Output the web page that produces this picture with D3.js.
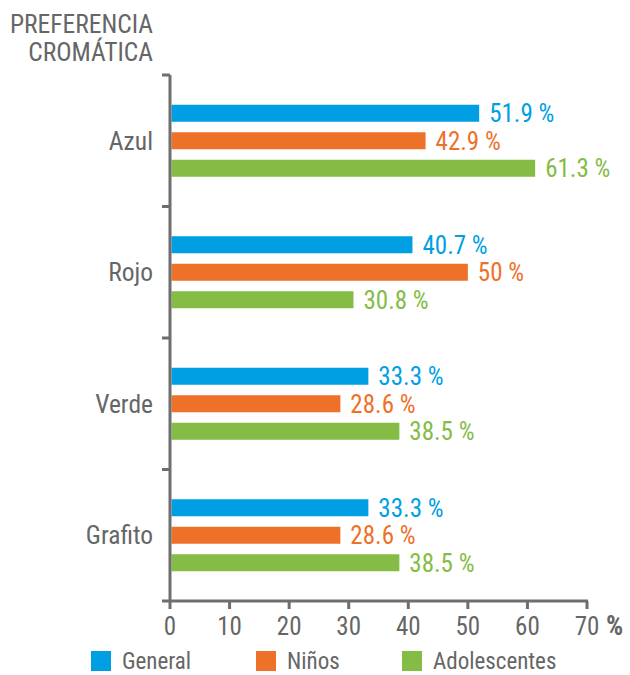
<!DOCTYPE html>
<html><head><meta charset="utf-8">
<script src="https://cdn.jsdelivr.net/npm/d3@7"></script>
<style>
body{margin:0;background:#fff;}
text{font-family:"Liberation Sans Narrow","Roboto Condensed","Arial Narrow",sans-serif;}
</style></head>
<body><svg id="c" width="630" height="675"></svg>
<script>
const categories = ["Azul","Rojo","Verde","Grafito"];
const seriesNames = ["General","Niños","Adolescentes"];
const general = [51.9, 40.7, 33.3, 33.3];
const ninos = [42.9, 50, 28.6, 28.6];
const adolescentes = [61.3, 30.8, 38.5, 38.5];
const xTicks = [0,10,20,30,40,50,60,70];
const colors = ["#009fe3","#ee712a","#84bc45"];

const svg = d3.select("#c");
const grey = "#666666", axisCol = "#6e6e6e";
const x = d3.scaleLinear().domain([0,70]).range([170,587]);
const y = d3.scaleBand().domain(categories).range([75,601]);
const pitch = 27.5, bh = 17;
const series = [general, ninos, adolescentes];

// bars
series.forEach((vals,si)=>{
  const off = (si-1)*pitch;
  svg.append("g").selectAll("rect").data(vals).join("rect")
    .attr("x", x(0)+1.5)
    .attr("y", (d,i)=> y(categories[i]) + y.bandwidth()/2 + off - bh/2)
    .attr("width", d=> x(d)-x(0)-1.5)
    .attr("height", bh)
    .attr("fill", colors[si]);
  svg.append("g").selectAll("text").data(vals).join("text")
    .attr("x", d=> x(d)+10)
    .attr("y", (d,i)=> y(categories[i]) + y.bandwidth()/2 + off + 9)
    .attr("fill", colors[si])
    .attr("font-size", 25)
    .text(d=> d + " %");
});

// y axis
svg.append("line").attr("x1",170).attr("x2",170).attr("y1",75).attr("y2",601)
  .attr("stroke",axisCol).attr("stroke-width",3);
const bounds = categories.map(c=>y(c));
svg.append("g").selectAll("line").data(bounds).join("line")
  .attr("x1",162).attr("x2",170).attr("y1",d=>d).attr("y2",d=>d)
  .attr("stroke",axisCol).attr("stroke-width",3);
svg.append("g").selectAll("text").data(categories).join("text")
  .attr("x",153).attr("y",d=>y(d)+y.bandwidth()/2+9)
  .attr("text-anchor","end").attr("fill",grey).attr("font-size",25.5)
  .text(d=>d);

// x axis
svg.append("line").attr("x1",162).attr("x2",x(70)+1).attr("y1",601).attr("y2",601)
  .attr("stroke",axisCol).attr("stroke-width",3);
svg.append("g").selectAll("line").data(xTicks).join("line")
  .attr("x1",d=>x(d)).attr("x2",d=>x(d)).attr("y1",601).attr("y2",609)
  .attr("stroke",axisCol).attr("stroke-width",3);
svg.append("g").selectAll("text").data(xTicks).join("text")
  .attr("x",d=>x(d)).attr("y",635).attr("text-anchor","middle")
  .attr("fill",grey).attr("font-size",25).text(d=>d);
svg.append("text").attr("x",606).attr("y",635).attr("fill",grey)
  .attr("font-size",27).attr("font-weight","bold").text("%");

// title
svg.append("text").attr("x",153).attr("y",33).attr("text-anchor","end")
  .attr("fill",grey).attr("font-size",25.5).text("PREFERENCIA");
svg.append("text").attr("x",153).attr("y",61).attr("text-anchor","end")
  .attr("fill",grey).attr("font-size",25.5).text("CROMÁTICA");

// legend
const legX = [91,256,402];
seriesNames.forEach((n,i)=>{
  svg.append("rect").attr("x",legX[i]).attr("y",651).attr("width",20).attr("height",20).attr("fill",colors[i]);
  svg.append("text").attr("x",legX[i]+31).attr("y",669).attr("fill",grey).attr("font-size",23).text(n);
});
</script></body></html>
